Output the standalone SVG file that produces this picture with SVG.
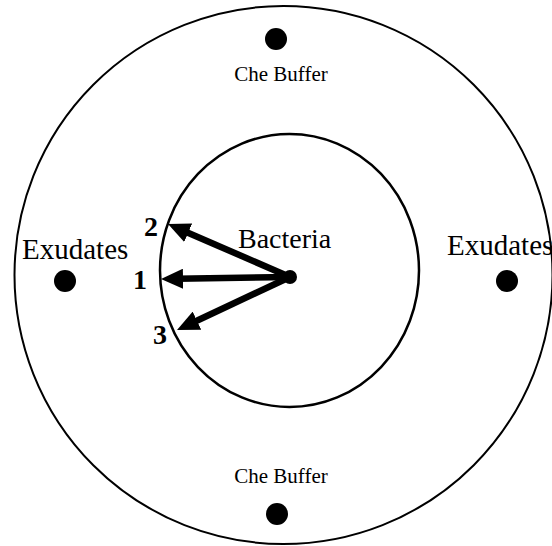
<svg xmlns="http://www.w3.org/2000/svg" width="552" height="546" viewBox="0 0 552 546">
<defs>
<style>
.ring{fill:none;stroke:#000;stroke-width:2}
.dot{fill:#000}
.lbl{font-family:"Liberation Serif","Times New Roman",serif;fill:#000}
.num{font-family:"Liberation Serif","Times New Roman",serif;font-weight:bold;font-size:28px;fill:#000;text-anchor:middle}
.shaft{stroke:#000;stroke-width:6.5;fill:none}
</style>
<marker id="head" viewBox="0 0 22 20" refX="6" refY="10" markerWidth="22" markerHeight="20" markerUnits="userSpaceOnUse" orient="auto">
<path d="M0,0 L22,10 L0,20 Z" fill="#000"/>
</marker>
</defs>
<rect width="552" height="546" fill="#fff"/>
<g id="outer-dish">
<circle class="ring" cx="283.5" cy="275" r="269"/>
</g>
<g id="bacteria">
<ellipse class="ring" cx="289.5" cy="270.5" rx="129.5" ry="136.5" style="stroke-width:2.5"/>
<text class="lbl" x="238" y="248" font-size="28">Bacteria</text>
</g>
<g id="che-buffer-top">
<circle class="dot" cx="276" cy="39" r="11"/>
<text class="lbl" x="281" y="81" font-size="21" text-anchor="middle">Che Buffer</text>
</g>
<g id="che-buffer-bottom">
<circle class="dot" cx="277" cy="514" r="11"/>
<text class="lbl" x="281" y="483" font-size="21" text-anchor="middle">Che Buffer</text>
</g>
<g id="exudates-left">
<circle class="dot" cx="65" cy="281" r="11"/>
<text class="lbl" x="22" y="259" font-size="29">Exudates</text>
</g>
<g id="exudates-right">
<circle class="dot" cx="507" cy="281" r="11"/>
<text class="lbl" x="447" y="255" font-size="29">Exudates</text>
</g>
<g id="connectors">
<line class="shaft" x1="290" y1="277" x2="177" y2="278.8" marker-end="url(#head)"/>
<line class="shaft" x1="290" y1="277" x2="182.7" y2="230.4" marker-end="url(#head)"/>
<line class="shaft" x1="290" y1="277" x2="191.5" y2="323.2" marker-end="url(#head)"/>
<circle class="dot" cx="290" cy="277" r="7"/>
</g>
<g id="labels">
<text class="num" x="151" y="236">2</text>
<text class="num" x="140" y="289">1</text>
<text class="num" x="160" y="344">3</text>
</g>
</svg>
